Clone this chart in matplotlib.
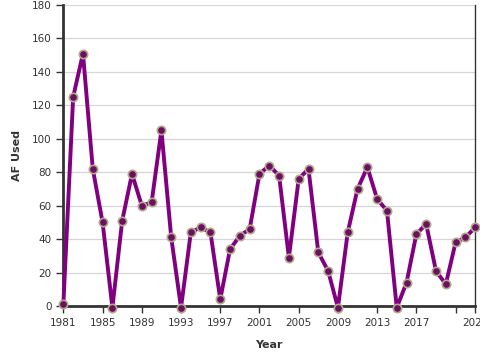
import matplotlib
matplotlib.use("Agg")
import matplotlib.pyplot as plt

years = list(range(1981, 2024))
af_used = [1, 125, 151, 82, 50, -1, 51, 79, 60, 62,
           105, 41, -1, 44, 47, 44, 4, 34, 42, 46,
           79, 84, 78, 29, 76, 82, 32, 21, -1, 44,
           70, 83, 64, 57, -1, 14, 43, 49, 21, 13,
           38, 41, 47]

tick_years = [1981, 1985, 1989, 1993, 1997, 2001, 2005, 2009, 2013, 2017, 2021, 2023]
tick_labels = ["1981", "1985", "1989", "1993", "1997", "2001", "2005", "2009",
               "2013", "2017", "", "2023"]

fig = plt.figure(figsize=(4.8, 3.6), dpi=100)
ax = fig.add_axes([0.132, 0.15, 0.858, 0.836])

ax.plot(years, af_used, color="#800080", lw=2.8, zorder=3, clip_on=False,
        marker="o", ms=6, mfc="#6b1060", mec="#b3a88c", mew=1.2)

ax.set_xlim(1981, 2023)
ax.set_ylim(0, 180)
ax.set_yticks(range(0, 181, 20))
ax.set_xticks(tick_years)
ax.set_xticklabels(tick_labels)

ax.grid(axis="y", color="#d6d6d6", lw=0.9)
ax.set_axisbelow(True)
for s in ["left", "bottom"]:
    ax.spines[s].set_linewidth(2)
    ax.spines[s].set_color("#333333")
ax.spines["right"].set_linewidth(1)
ax.spines["right"].set_color("#333333")
ax.spines["top"].set_visible(False)

ax.tick_params(labelsize=7.5, colors="#333333", length=5, width=1, direction="out")
for lbl in ax.get_xticklabels():
    lbl.set_clip_on(False)

ax.set_xlabel("Year", fontsize=8, fontweight="bold", color="#333333", labelpad=9)
ax.set_ylabel("AF Used", fontsize=8, fontweight="bold", color="#333333", labelpad=7)

fig.savefig("out.png", dpi=100)
